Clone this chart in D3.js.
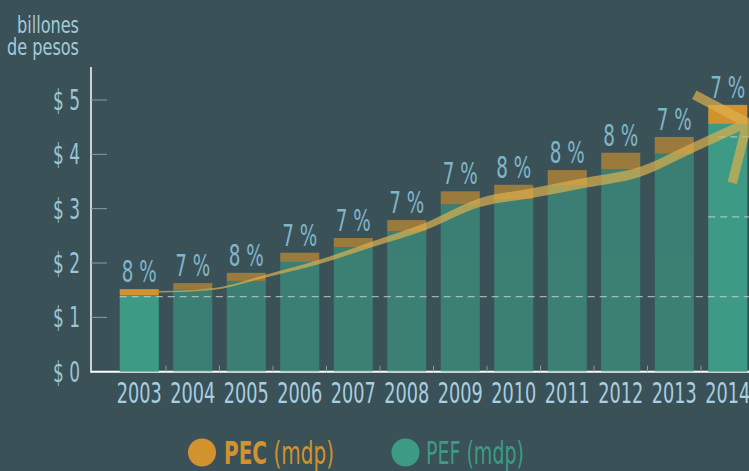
<!DOCTYPE html>
<html>
<head>
<meta charset="utf-8">
<script src="https://cdn.jsdelivr.net/npm/d3@7"></script>
<style>
    body { margin: 0; background: #3a5158; }
    svg { display: block; }
    text { font-family: "DejaVu Sans Condensed", "DejaVu Sans", sans-serif; }
</style>
</head>
<body>
<div id="chart"></div>
<script>
// values (billones de pesos)
let years = ["2003", "2004", "2005", "2006", "2007", "2008", "2009", "2010", "2011", "2012", "2013", "2014"];
let pef = [1.52, 1.63, 1.82, 2.19, 2.46, 2.79, 3.32, 3.44, 3.71, 4.03, 4.32, 4.91];
let pec = [0.11, 0.12, 0.15, 0.17, 0.17, 0.21, 0.24, 0.27, 0.28, 0.30, 0.31, 0.35];
let pctLabels = ["8 %", "7 %", "8 %", "7 %", "7 %", "7 %", "7 %", "8 %", "8 %", "8 %", "7 %", "7 %"];
let trend = [1.47, 1.52, 1.76, 2.02, 2.35, 2.68, 3.11, 3.29, 3.48, 3.68, 4.13, 4.58];
let highlighted = ["2003", "2014"];
let yTicks = [0, 1, 2, 3, 4, 5];
let refValues = [1.38, 2.85, 4.32];
let refStartYear = ["2003", "2014", "2014"];

/** Class drawing the PEC / PEF bar chart. */
class PecChart {

    constructor() {
        this.width = 749;
        this.height = 471;
        this.svg = d3.select("#chart").append("svg")
            .attr("width", this.width)
            .attr("height", this.height);

        this.svg.append("rect")
            .attr("width", this.width)
            .attr("height", this.height)
            .attr("fill", "#3a5158");

        this.x = d3.scaleBand()
            .domain(years)
            .range([112.5, 754.5])
            .paddingInner(0.27)
            .paddingOuter(0.135);

        this.y = d3.scaleLinear()
            .domain([0, 5])
            .range([371.7, 100]);
    }

    /**
     * Squeezes a group of texts horizontally, the font here is wider than the
     * condensed one of the picture. The scale is taken from the first text.
     */
    squeeze(sel, target, px, py) {
        let s = target / sel.node().getComputedTextLength();
        sel.attr("transform", (d, i) => "translate(" + px(d, i) + "," + py(d, i) + ") scale(" + s + ",1)");
    }

    draw() {
        let x = this.x, y = this.y, svg = this.svg;
        let bw = x.bandwidth();
        let data = years.map((d, i) => ({year: d, pef: pef[i], pec: pec[i], pct: pctLabels[i], trend: trend[i]}));
        let op = d => highlighted.includes(d.year) ? 1 : 0.63;

        // axes lines
        svg.append("line")
            .attr("x1", 91).attr("x2", this.width)
            .attr("y1", y(0)).attr("y2", y(0))
            .attr("stroke", "#ffffff").attr("stroke-width", 2);
        svg.append("line")
            .attr("x1", 91).attr("x2", 91)
            .attr("y1", 67).attr("y2", y(0) + 1)
            .attr("stroke", "#ffffff").attr("stroke-width", 1.5);

        svg.selectAll(".ytick").data(yTicks.filter(d => d > 0)).enter()
            .append("line")
            .attr("class", "ytick")
            .attr("x1", 91).attr("x2", 107)
            .attr("y1", d => y(d)).attr("y2", d => y(d))
            .attr("stroke", "#8a9ea2").attr("stroke-width", 1);

        let ylab = svg.selectAll(".ylab").data([5].concat(yTicks.slice(0, -1))).enter()
            .append("text")
            .attr("class", "ylab")
            .attr("text-anchor", "end")
            .attr("font-size", 27.5)
            .attr("fill", "#9cc4d6")
            .text(d => "$ " + d);
        this.squeeze(ylab, 27, () => 80, d => y(d) + 10);

        // small marks between bars
        svg.selectAll(".gap").data(years.slice(0, -1)).enter()
            .append("line")
            .attr("class", "gap")
            .attr("x1", d => x(d) + bw + x.step() * 0.135)
            .attr("x2", d => x(d) + bw + x.step() * 0.135)
            .attr("y1", y(0)).attr("y2", y(0) - 6)
            .attr("stroke", "#8a9ea2").attr("stroke-width", 1);

        // bars: PEF with PEC on top
        let bars = svg.selectAll(".bar").data(data).enter()
            .append("g")
            .attr("class", "bar")
            .attr("opacity", op);

        bars.append("rect")
            .attr("x", d => x(d.year))
            .attr("width", bw)
            .attr("y", d => y(d.pef - d.pec))
            .attr("height", d => y(0) - y(d.pef - d.pec))
            .attr("fill", "#3d9b85");

        bars.append("rect")
            .attr("x", d => x(d.year))
            .attr("width", bw)
            .attr("y", d => y(d.pef))
            .attr("height", d => y(d.pef - d.pec) - y(d.pef))
            .attr("fill", "#d2922e");

        // dashed reference lines
        svg.selectAll(".ref").data(refValues).enter()
            .append("line")
            .attr("class", "ref")
            .attr("x1", (d, i) => x(refStartYear[i]) + (i == 2 ? 10 : 0))
            .attr("x2", this.width)
            .attr("y1", d => y(d)).attr("y2", d => y(d))
            .attr("stroke", "#c4d2d2").attr("stroke-opacity", 0.75)
            .attr("stroke-width", 1.3)
            .attr("stroke-dasharray", "7,5");

        // percentage labels
        let pct = svg.selectAll(".pct").data(data).enter()
            .append("text")
            .attr("class", "pct")
            .attr("text-anchor", "middle")
            .attr("font-size", 30)
            .attr("fill", "#80b6c8")
            .attr("font-weight", 300)
            .text(d => d.pct);
        this.squeeze(pct, 35, d => x(d.year) + bw / 2, d => y(d.pef) - 7);

        // year labels
        let yr = svg.selectAll(".year").data(data).enter()
            .append("text")
            .attr("class", "year")
            .attr("text-anchor", "middle")
            .attr("font-size", 28.5)
            .attr("fill", "#a9cfe0")
            .text(d => d.year);
        this.squeeze(yr, 45, d => x(d.year) + bw / 2, () => 403);

        // trend arrow, thin at the start and thick from 2011 on
        let n = data.length - 1;
        let w = i => 1.5 + 8.5 * d3.easeSinInOut(Math.min(1, i / 8));
        let area = d3.area()
            .x(d => x(d.year) + bw)
            .y0((d, i) => y(d.trend) - w(i) / 2)
            .y1((d, i) => y(d.trend) + w(i) / 2)
            .curve(d3.curveMonotoneX);

        let arrow = svg.append("g").attr("opacity", 0.7);
        arrow.append("path")
            .attr("d", area(data))
            .attr("fill", "#dcb04e");

        let last = data[n];
        let tx = x(last.year) + bw, ty = y(last.trend);
        arrow.append("path")
            .attr("d", "M" + (tx - 53) + "," + (ty - 28) + "L" + tx + "," + ty + "L" + (tx - 15) + "," + (ty + 60))
            .attr("fill", "none")
            .attr("stroke", "#dcb04e")
            .attr("stroke-width", 9.5)
            .attr("stroke-linejoin", "miter");

        // titles and legend
        let title = svg.selectAll(".title").data(["billones", "de pesos"]).enter()
            .append("text")
            .attr("class", "title")
            .attr("text-anchor", "end")
            .attr("font-size", 23)
            .attr("fill", "#a4cad8")
            .text(d => d);
        this.squeeze(title, 62, () => 79, (d, i) => 33 + i * 22);

        let legend = svg.append("g");
        legend.append("circle").attr("cx", 202).attr("cy", 452.5).attr("r", 14).attr("fill", "#d2922e");
        legend.append("circle").attr("cx", 405.5).attr("cy", 452.5).attr("r", 14).attr("fill", "#3d9b85");

        let lt = legend.append("text")
            .attr("font-size", 31.5)
            .attr("fill", "#d2922e");
        lt.append("tspan").attr("font-weight", "bold").text("PEC");
        lt.append("tspan").text(" (mdp)");
        this.squeeze(lt, 110, () => 224, () => 464);

        let lf = legend.append("text")
            .attr("font-size", 31.5)
            .attr("fill", "#3d9b85")
            .text("PEF (mdp)");
        this.squeeze(lf, 98, () => 426, () => 464);
    }
}

let chart = new PecChart();
chart.draw();
</script>
</body>
</html>
